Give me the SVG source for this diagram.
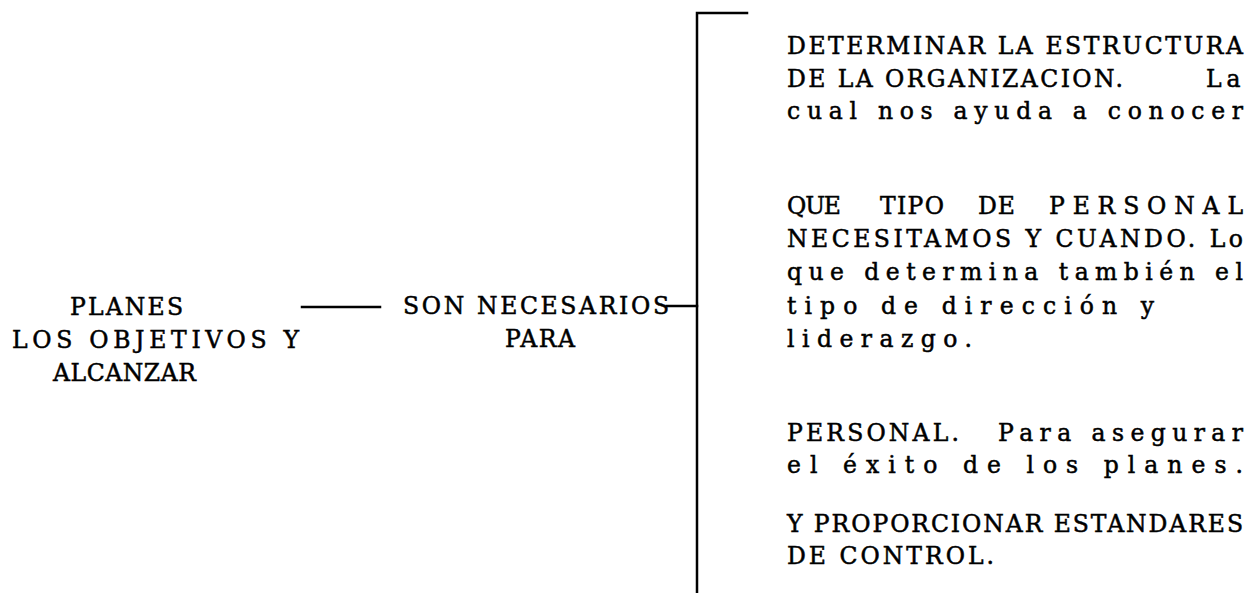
<svg xmlns="http://www.w3.org/2000/svg" width="1251" height="593" viewBox="0 0 1251 593">
<style>
text{font-family:"DejaVu Serif","Liberation Serif",serif;font-size:23.5px;fill:#000;stroke:#000;stroke-width:0.5;white-space:pre}
.ln{stroke:#000;stroke-width:2.5;fill:none;stroke-linecap:square}
</style>
<rect width="1251" height="593" fill="#fff"/>
<g id="connectors">
<line class="ln" x1="302" y1="307" x2="380" y2="307"/>
<line class="ln" x1="667" y1="306" x2="697" y2="306"/>
<polyline class="ln" points="747,13 697,13 697,592"/>
</g>
<g id="node-alcanzar">
<text x="70" y="315" textLength="113" lengthAdjust="spacing">PLANES</text>
<text x="12" y="348" textLength="287" lengthAdjust="spacing">LOS OBJETIVOS Y</text>
<text x="53" y="381" textLength="143" lengthAdjust="spacing">ALCANZAR</text>
</g>
<g id="node-necesarios">
<text x="403" y="314" textLength="266" lengthAdjust="spacing">SON NECESARIOS</text>
<text x="505" y="347" textLength="70" lengthAdjust="spacing">PARA</text>
</g>
<g id="node-estructura">
<text x="787" y="54" textLength="456" lengthAdjust="spacing">DETERMINAR LA ESTRUCTURA</text>
<text y="87"><tspan x="787" textLength="336" lengthAdjust="spacing">DE LA ORGANIZACION.</tspan><tspan x="1206" letter-spacing="5">La</tspan></text>
<text x="787" y="119" textLength="456" lengthAdjust="spacing">cual nos ayuda a conocer</text>
</g>
<g id="node-personal">
<text y="214"><tspan x="787" textLength="54" lengthAdjust="spacing">QUE</tspan><tspan x="880" textLength="64" lengthAdjust="spacing">TIPO</tspan><tspan x="978" textLength="37" lengthAdjust="spacing">DE</tspan><tspan x="1049" textLength="194" lengthAdjust="spacing">PERSONAL</tspan></text>
<text x="787" y="247" textLength="456" lengthAdjust="spacing">NECESITAMOS Y CUANDO. Lo</text>
<text x="787" y="280" textLength="456" lengthAdjust="spacing">que determina también el</text>
<text x="787" y="314" textLength="367" lengthAdjust="spacing">tipo de dirección y</text>
<text x="787" y="347" textLength="185" lengthAdjust="spacing">liderazgo.</text>
</g>
<g id="node-planes">
<text y="441"><tspan x="787" textLength="172" lengthAdjust="spacing">PERSONAL.</tspan><tspan x="998" textLength="245" lengthAdjust="spacing">Para asegurar</tspan></text>
<text x="787" y="473" textLength="456" lengthAdjust="spacing">el éxito de los planes.</text>
</g>
<g id="node-control">
<text x="787" y="532" textLength="456" lengthAdjust="spacing">Y PROPORCIONAR ESTANDARES</text>
<text x="787" y="564" textLength="207" lengthAdjust="spacing">DE CONTROL.</text>
</g>
</svg>
